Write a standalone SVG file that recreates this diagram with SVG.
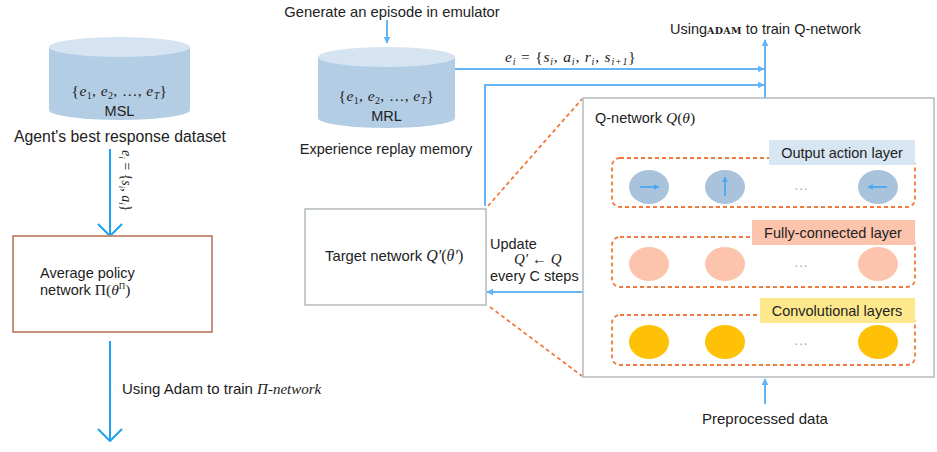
<svg xmlns="http://www.w3.org/2000/svg" width="937" height="452" viewBox="0 0 937 452">
  <defs>
    <style>
      .sans { font-family: "Liberation Sans", Arial, sans-serif; fill: #222; }
      .math { font-family: "Liberation Serif", "Times New Roman", serif; fill: #222; }
      .it { font-style: italic; }
      .cyl-body { fill: #b3cde5; }
      .cyl-top { fill: #d6e4f1; }
      .box { fill: #fff; stroke: #b4bcbe; stroke-width: 1.5; }
      .flow { fill: none; stroke: #64b4f6; stroke-width: 2; }
      .flow-bright { fill: none; stroke: #1ba3f0; stroke-width: 2; }
      .dash { fill: none; stroke: #f07a3c; stroke-width: 1.8; stroke-dasharray: 4 3; }
      .layer { fill: none; stroke: #f07a3c; stroke-width: 1.8; stroke-dasharray: 4 3; }
      .dots { font-family: "Liberation Sans", Arial, sans-serif; fill: #a8adb0; font-size: 14px; }
      .out { fill: #a9c3dd; }
      .fc { fill: #fcc4ad; }
      .conv { fill: #ffc105; }
      .glyph { stroke: #4aa8f0; stroke-width: 1.8; fill: none; }
    </style>
    <marker id="tri" viewBox="0 0 10 10" refX="9" refY="5" markerWidth="7" markerHeight="7" orient="auto-start-reverse" markerUnits="userSpaceOnUse">
      <path d="M0,0 L10,5 L0,10 z" fill="#64b4f6"/>
    </marker>
    <marker id="chev" viewBox="0 0 26 14" refX="13" refY="13" markerWidth="26" markerHeight="14" orient="0" markerUnits="userSpaceOnUse">
      <path d="M1,1 L13,13 L25,1" fill="none" stroke="#1ba3f0" stroke-width="2"/>
    </marker>
    <marker id="tinyarrow" viewBox="0 0 10 10" refX="9" refY="5" markerWidth="6" markerHeight="6" orient="auto" markerUnits="userSpaceOnUse">
      <path d="M0,0 L10,5 L0,10 z" fill="#4aa8f0"/>
    </marker>
  </defs>

  <!-- connectors -->
  <g id="connectors">
    <!-- best response dataset to average policy network -->
    <line class="flow-bright" x1="110" y1="149" x2="110" y2="236" marker-end="url(#chev)"/>
    <text class="math" transform="translate(122,150) rotate(90)" font-size="14"><tspan class="it">e</tspan><tspan class="it" font-size="9" dy="3">i</tspan><tspan dy="-3"> = {</tspan><tspan class="it">s</tspan><tspan class="it" font-size="9" dy="3">i</tspan><tspan dy="-3">, </tspan><tspan class="it">a</tspan><tspan class="it" font-size="9" dy="3">i</tspan><tspan dy="-3">}</tspan></text>
    <!-- average policy network output -->
    <line class="flow-bright" x1="110" y1="341" x2="110" y2="441" marker-end="url(#chev)"/>
    <text class="sans" x="122" y="394" font-size="15">Using Adam to train <tspan class="math it">Π-network</tspan></text>

    <!-- emulator into replay memory -->
    <line class="flow" x1="387" y1="20" x2="387" y2="43" marker-end="url(#tri)"/>
    <!-- sampled transitions to training -->
    <line class="flow" x1="455" y1="69" x2="764" y2="69" marker-end="url(#tri)"/>
    <text class="math" x="505" y="62" font-size="15.5" letter-spacing="0.8"><tspan class="it">e</tspan><tspan class="it" font-size="10" dy="3">i</tspan><tspan dy="-3"> = {</tspan><tspan class="it">s</tspan><tspan class="it" font-size="10" dy="3">i</tspan><tspan dy="-3">, </tspan><tspan class="it">a</tspan><tspan class="it" font-size="10" dy="3">i</tspan><tspan dy="-3">, </tspan><tspan class="it">r</tspan><tspan class="it" font-size="10" dy="3">i</tspan><tspan dy="-3">, </tspan><tspan class="it">s</tspan><tspan class="it" font-size="10" dy="3">i+1</tspan><tspan dy="-3">}</tspan></text>
    <!-- target network to training -->
    <polyline class="flow" points="485,206 485,85 764,85" marker-end="url(#tri)"/>
    <!-- Q-network up to training -->
    <line class="flow" x1="765" y1="98" x2="765" y2="40" marker-end="url(#tri)"/>
    <!-- periodic update of target network -->
    <line class="flow" x1="583" y1="292" x2="487" y2="292" marker-end="url(#tri)"/>
    <!-- preprocessed data into Q-network -->
    <line class="flow" x1="765" y1="404" x2="765" y2="379" marker-end="url(#tri)"/>

    <!-- zoom lines from target network to Q-network detail -->
    <line class="dash" x1="488" y1="206" x2="582" y2="99"/>
    <line class="dash" x1="490" y1="307" x2="582" y2="376"/>
  </g>

  <!-- agent's best response dataset -->
  <g id="msl">
    <path class="cyl-body" d="M49,47 V110 A70.5,10 0 0 0 190,110 V47 Z"/>
    <ellipse class="cyl-top" cx="119.5" cy="47" rx="70.5" ry="10"/>
    <text class="math" x="119.5" y="96" font-size="15.5" text-anchor="middle" letter-spacing="0.4">{<tspan class="it">e</tspan><tspan font-size="10" dy="3">1</tspan><tspan dy="-3">, </tspan><tspan class="it">e</tspan><tspan font-size="10" dy="3">2</tspan><tspan dy="-3">, …, </tspan><tspan class="it">e</tspan><tspan class="it" font-size="10" dy="3">T</tspan><tspan dy="-3">}</tspan></text>
    <text class="sans" x="119.5" y="116" font-size="14.5" text-anchor="middle">MSL</text>
    <text class="sans" x="120" y="142" font-size="15.8" text-anchor="middle">Agent's best response dataset</text>
  </g>

  <!-- average policy network -->
  <g id="avg-policy">
    <rect x="13" y="236" width="199" height="96" fill="#fff" stroke="#c0866a" stroke-width="1.8"/>
    <text class="sans" x="40" y="278" font-size="14.5">Average policy</text>
    <text class="sans" x="40" y="295" font-size="14.5">network <tspan class="math" font-size="15.5">Π(<tspan class="it">θ</tspan><tspan font-size="9" dy="-6">Π</tspan><tspan dy="6">)</tspan></tspan></text>
  </g>

  <!-- experience replay memory -->
  <g id="mrl">
    <text class="sans" x="392" y="17" font-size="14.8" text-anchor="middle">Generate an episode in emulator</text>
    <path class="cyl-body" d="M318,57 V118 A68.5,10 0 0 0 455,118 V57 Z"/>
    <ellipse class="cyl-top" cx="386.5" cy="57" rx="68.5" ry="10"/>
    <text class="math" x="386.5" y="101" font-size="15.5" text-anchor="middle" letter-spacing="0.4">{<tspan class="it">e</tspan><tspan font-size="10" dy="3">1</tspan><tspan dy="-3">, </tspan><tspan class="it">e</tspan><tspan font-size="10" dy="3">2</tspan><tspan dy="-3">, …, </tspan><tspan class="it">e</tspan><tspan class="it" font-size="10" dy="3">T</tspan><tspan dy="-3">}</tspan></text>
    <text class="sans" x="386.5" y="121" font-size="14.5" text-anchor="middle">MRL</text>
    <text class="sans" x="386" y="154" font-size="14.5" text-anchor="middle">Experience replay memory</text>
  </g>

  <!-- training label -->
  <g id="adam-q">
    <text class="sans" x="670" y="34" font-size="14.5">Using<tspan font-family="'DejaVu Serif', serif" font-weight="bold" font-size="9.5" letter-spacing="0.3">ADAM</tspan> to train Q-network</text>
  </g>

  <!-- target network -->
  <g id="target-net">
    <rect class="box" x="305" y="209" width="181" height="96"/>
    <text class="sans" x="325" y="261" font-size="14.8">Target network <tspan class="math it" font-size="16">Q′</tspan><tspan class="math" font-size="16">(</tspan><tspan class="math it" font-size="16">θ′</tspan><tspan class="math" font-size="16">)</tspan></text>
    <text class="sans" x="490" y="249" font-size="14.5">Update</text>
    <text class="math" x="514" y="264" font-size="15"><tspan class="it">Q′</tspan> ← <tspan class="it">Q</tspan></text>
    <text class="sans" x="490" y="281" font-size="14.5">every C steps</text>
  </g>

  <!-- Q-network detail -->
  <g id="q-network">
    <rect class="box" x="583" y="98" width="351" height="279"/>
    <text class="sans" x="595" y="123" font-size="14.5">Q-network <tspan class="math it" font-size="15.5">Q</tspan><tspan class="math" font-size="15.5">(</tspan><tspan class="math it" font-size="15.5">θ</tspan><tspan class="math" font-size="15.5">)</tspan></text>
  </g>

  <g id="output-layer">
    <rect class="layer" x="612" y="158" width="303" height="49" rx="8"/>
    <rect x="769" y="140" width="146" height="25" fill="#d7e6f2"/>
    <text class="sans" x="842" y="158" font-size="14.5" text-anchor="middle">Output action layer</text>
    <ellipse class="out" cx="649" cy="187" rx="20" ry="17"/>
    <ellipse class="out" cx="725" cy="187" rx="20" ry="17"/>
    <ellipse class="out" cx="878" cy="187" rx="20" ry="17"/>
    <line class="glyph" x1="640" y1="187" x2="659" y2="187" marker-end="url(#tinyarrow)"/>
    <line class="glyph" x1="725" y1="196" x2="725" y2="177" marker-end="url(#tinyarrow)"/>
    <line class="glyph" x1="887" y1="187" x2="868" y2="187" marker-end="url(#tinyarrow)"/>
    <text class="dots" x="801" y="193" text-anchor="middle">···</text>
  </g>

  <g id="fc-layer">
    <rect class="layer" x="612" y="237" width="303" height="50" rx="8"/>
    <rect x="752" y="220" width="163" height="25" fill="#fcc3ad"/>
    <text class="sans" x="833" y="238" font-size="14.5" text-anchor="middle">Fully-connected layer</text>
    <ellipse class="fc" cx="649" cy="264" rx="20" ry="17"/>
    <ellipse class="fc" cx="725" cy="264" rx="20" ry="17"/>
    <ellipse class="fc" cx="878" cy="264" rx="20" ry="17"/>
    <text class="dots" x="801" y="270" text-anchor="middle">···</text>
  </g>

  <g id="conv-layer">
    <rect class="layer" x="612" y="315" width="303" height="50" rx="8"/>
    <rect x="760" y="298" width="155" height="25" fill="#fde98c"/>
    <text class="sans" x="837" y="316" font-size="14.5" text-anchor="middle">Convolutional layers</text>
    <ellipse class="conv" cx="649" cy="342" rx="20" ry="17"/>
    <ellipse class="conv" cx="725" cy="342" rx="20" ry="17"/>
    <ellipse class="conv" cx="878" cy="342" rx="20" ry="17"/>
    <text class="dots" x="801" y="348" text-anchor="middle">···</text>
  </g>

  <g id="preprocessed">
    <text class="sans" x="765" y="424" font-size="15" text-anchor="middle">Preprocessed data</text>
  </g>
</svg>
